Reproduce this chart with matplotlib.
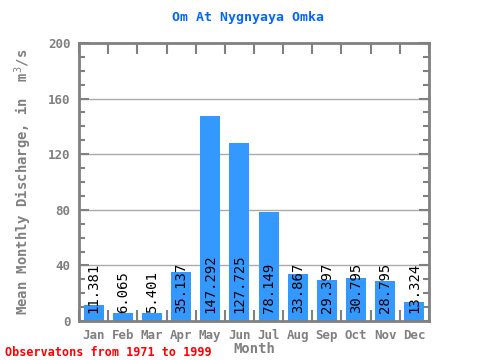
import matplotlib
matplotlib.use("Agg")
import matplotlib.pyplot as plt
import numpy as np
from matplotlib.ticker import MultipleLocator

months = ["Jan", "Feb", "Mar", "Apr", "May", "Jun",
          "Jul", "Aug", "Sep", "Oct", "Nov", "Dec"]
discharge = [11.381, 6.065, 5.401, 35.137, 147.292, 127.725,
             78.149, 33.867, 29.397, 30.795, 28.795, 13.324]
value_labels = ["11.381", "6.065", "5.401", "35.137", "147.292", "127.725",
                "78.149", "33.867", "29.397", "30.795", "28.795", "13.324"]

grey = "#808080"
mono = "DejaVu Sans Mono"

fig = plt.figure(figsize=(4.8, 3.6), dpi=100)
ax = fig.add_axes([79 / 480, 39 / 360, 350 / 480, 278 / 360])

x = np.arange(len(months))
ax.bar(x, discharge, width=0.69, color="#3399ff", zorder=2)

for xi, lab in zip(x, value_labels):
    ax.text(xi, 6, lab, rotation=90, ha="center", va="bottom",
            fontsize=10, family=mono, color="black", zorder=3)

ax.set_xlim(-0.5, 11.5)
ax.set_ylim(0, 200)

# grid lines
for gy in [40, 80, 120, 160]:
    ax.axhline(gy, color="#aaaaaa", linewidth=1, zorder=1)

ax.set_xticks(x)
ax.set_xticklabels(months)
ax.set_xticks(np.arange(-0.5, 12, 1), minor=True)
ax.tick_params(axis="x", which="major", length=0, pad=6)
ax.tick_params(axis="x", which="minor", length=8, width=1.5, color=grey,
               direction="in", top=True, bottom=True)

ax.yaxis.set_major_locator(MultipleLocator(40))
ax.yaxis.set_minor_locator(MultipleLocator(10))
ax.tick_params(axis="y", which="major", length=7, width=1.5, color=grey,
               direction="in", left=True, right=True, pad=6)
ax.tick_params(axis="y", which="minor", length=4, width=1.5, color=grey,
               direction="in", left=True, right=True)

for lab in ax.get_xticklabels() + ax.get_yticklabels():
    lab.set_family(mono)
    lab.set_fontsize(9)
    lab.set_fontweight("bold")
    lab.set_color(grey)

for s in ax.spines.values():
    s.set_color(grey)
    s.set_linewidth(2)

ax.set_xlabel("Month", family=mono, fontsize=10, fontweight="bold",
              color=grey, labelpad=0)
ax.set_ylabel("Mean Monthly Discharge, in  m$^{3}$/s", family=mono,
              fontsize=10, fontweight="bold", color=grey, labelpad=10)

fig.text(248 / 480, 1 - 18 / 360, "Om At Nygnyaya Omka", ha="center",
         va="center", family=mono, fontsize=9.5, fontweight="bold",
         color="#0066ff")
fig.text(5 / 480, 1 - 352 / 360, "Observatons from 1971 to 1999",
         ha="left", va="center", family=mono, fontsize=8.5, fontweight="bold",
         color="red")

fig.savefig("out.png", dpi=100)
